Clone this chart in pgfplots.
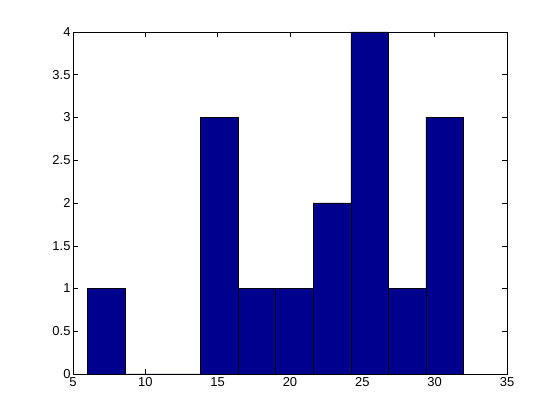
\documentclass[border=0pt]{standalone}
\usepackage{pgfplots}
\pgfplotsset{compat=1.18}
\usepackage{fontspec}
\setmainfont{Liberation Sans}
\definecolor{mblue}{rgb}{0,0,0.5625}
\begin{document}
\begin{tikzpicture}
\path[use as bounding box] (-73bp,-46bp) rectangle (487bp,374bp);
\begin{axis}[
  at={(0,0)}, anchor=south west,
  scale only axis, width=434bp, height=342bp,
  xmin=5, xmax=35, ymin=0, ymax=4,
  xtick={5,10,...,35}, ytick={0,0.5,...,4},
  tick align=inside, tick pos=both,
  major tick length=5bp,
  axis line style={black, line width=0.5pt},
  tick style={black, line width=0.5pt},
  /pgf/number format/assume math mode=true,
  xticklabel style={font=\fontsize{13}{14}\selectfont},
  yticklabel style={font=\fontsize{13}{14}\selectfont, /pgf/number format/fixed, xshift=1bp},
]
\addplot[ybar interval, fill=mblue, draw=black, line width=0.4pt]
coordinates {(6,1) (8.6,0) (11.2,0) (13.8,3) (16.4,1) (19,1) (21.6,2) (24.2,4) (26.8,1) (29.4,3) (32,3)};
\end{axis}
\end{tikzpicture}
\end{document}
